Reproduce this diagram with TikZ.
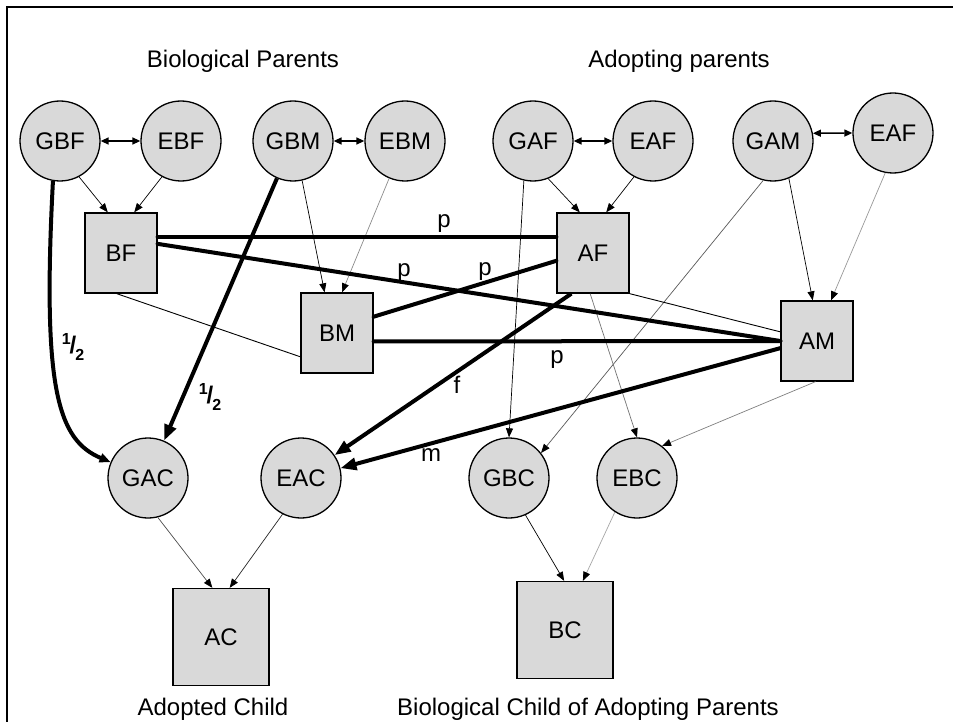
\documentclass[tikz,border=0pt]{standalone}
\usepackage{fontspec}
\setmainfont{Liberation Sans}
\usetikzlibrary{arrows.meta}

\definecolor{boxgray}{gray}{0.85}

\newcommand{\halfwt}{\textbf{\raisebox{0.40em}{\fontsize{16bp}{18bp}\selectfont 1}\kern-1bp/\kern-1bp\raisebox{-0.28em}{\fontsize{16bp}{18bp}\selectfont 2}}}

\begin{document}
\begin{tikzpicture}[x=1bp,y=-1bp,
  every node/.style={font=\fontsize{24bp}{28bp}\selectfont},
  latent/.style={circle, draw, line width=1.3bp, fill=boxgray, minimum size=80bp, inner sep=0pt},
  obs/.style={rectangle, draw, line width=1.3bp, fill=boxgray, minimum width=72bp, minimum height=80bp, inner sep=0pt},
  thinarrow/.style={line width=0.7bp, -{Triangle[length=9bp,width=7bp,color=black]}},
  biarrow/.style={line width=1.4bp, {Triangle[length=8bp,width=7bp]}-{Triangle[length=8bp,width=7bp]}},
  thickline/.style={line width=4bp, line cap=round},
  thickarrow/.style={line width=4bp, -{Triangle[length=16bp,width=12bp]}},
  pathlbl/.style={anchor=base, inner sep=0pt}
]
\useasboundingbox (0,0) rectangle (953,722);
\fill[white] (0,0) rectangle (953,722);

% frame
\draw[line width=2.6bp] (7,722) -- (7,7) -- (953,7);

% headings
\node[pathlbl] (hBio) at (243,68) {Biological Parents};
\node[pathlbl] (hAdopt) at (679,68) {Adopting parents};
\node[pathlbl] (hAC) at (213,715) {Adopted Child};
\node[pathlbl] (hBC) at (588,715) {Biological Child of Adopting Parents};

% latent factors of the parents
\node[latent] (GBF) at (60,141) {GBF};
\node[latent] (EBF) at (181,141) {EBF};
\node[latent] (GBM) at (293,141) {GBM};
\node[latent] (EBM) at (405,141) {EBM};
\node[latent] (GAF) at (533,141) {GAF};
\node[latent] (EAF) at (653,141) {EAF};
\node[latent] (GAM) at (773,141) {GAM};
\node[latent] (EAM) at (893,133) {EAF};

% observed parents
\node[obs] (BF) at (121,253) {BF};
\node[obs] (BM) at (337,333) {BM};
\node[obs] (AF) at (593,253) {AF};
\node[obs] (AM) at (817,341) {AM};

% latent factors of the children
\node[latent] (GAC) at (148,478) {GAC};
\node[latent] (EAC) at (301,478) {EAC};
\node[latent] (GBC) at (509,478) {GBC};
\node[latent] (EBC) at (637,478) {EBC};

% observed children
\node[obs, minimum width=96bp, minimum height=97bp] (AC) at (221,637) {AC};
\node[obs, minimum width=96bp, minimum height=97bp] (BC) at (565,630) {BC};

% correlations between G and E of each parent
\draw[biarrow] (GBF) -- (EBF);
\draw[biarrow] (GBM) -- (EBM);
\draw[biarrow] (GAF) -- (EAF);
\draw[biarrow] (GAM.11.5) -- (EAM.west);

% G and E into the observed parents
\draw[thinarrow] (GBF.298) -- (BF.108);
\draw[thinarrow] (EBF.242) -- (BF.72);
\draw[thinarrow] (GBM.283) -- (BM.107);
\draw[thinarrow, draw=black!45] (EBM.247) -- (BM.83);
\draw[thinarrow] (GAF.292) -- (AF.108);
\draw[thinarrow] (EAF.242) -- (AF.72);
\draw[thinarrow] (GAM.293) -- (AM.96);
\draw[thinarrow, draw=black!40] (EAM.259) -- (AM.71);

% G and E into the observed children
\draw[thinarrow, draw=black!70] (GAC.284) -- (AC.100.6);
\draw[thinarrow, draw=black!85] (EAC.243) -- (AC.80.5);
\draw[thinarrow] (GBC.294) -- (BC.91);
\draw[thinarrow, draw=black!35] (EBC.237) -- (BC.70);

% transmission to the biological child of the adopting parents
\draw[thinarrow] (GAF.257) -- (GBC.north);
\draw[thinarrow, draw=black!65] (GAM.256) -- (GBC.38);
\draw[thinarrow, draw=black!55] (AF.266) -- (EBC.north);
\draw[thinarrow, draw=black!50] (AM.268) -- (EBC.52);

% spouse correlations
\draw[line width=0.9bp] (BF.264) -- (BM.213.7);
\draw[line width=0.9bp] (AF.south east) -- (AM.166);

% assortative mating paths
\draw[thickline] (BF.24) -- (AF.156);
\draw[thickline] (BF.14) -- (AM.west);
\draw[thickline] (BM.24) -- (AF.192.5);
\draw[thickline] (BM.347.5) -- (AM.west);

% genetic transmission to the adopted child
\draw[line width=4bp, -{Triangle[length=11bp,width=9bp]}]
  (GBF.260) .. controls (42,390) and (58,440) .. (GAC.157);
\draw[thickarrow] (GBM) -- (GAC);

% environmental transmission to the adopted child
\draw[thickarrow] (AF.242) -- (EAC);
\draw[thickarrow] (AM.191) -- (EAC.14);

% path labels
\node[pathlbl] (lp1) at (444,227) {p};
\node[pathlbl] (lp2) at (404,276) {p};
\node[pathlbl] (lp3) at (485,275) {p};
\node[pathlbl] (lp4) at (557,363) {p};
\node[pathlbl] (lf) at (457,393) {f};
\node[pathlbl] (lm) at (431,461) {m};
\node (lh1) at (73,347) {\halfwt};
\node (lh2) at (210,397) {\halfwt};
\end{tikzpicture}
\end{document}
